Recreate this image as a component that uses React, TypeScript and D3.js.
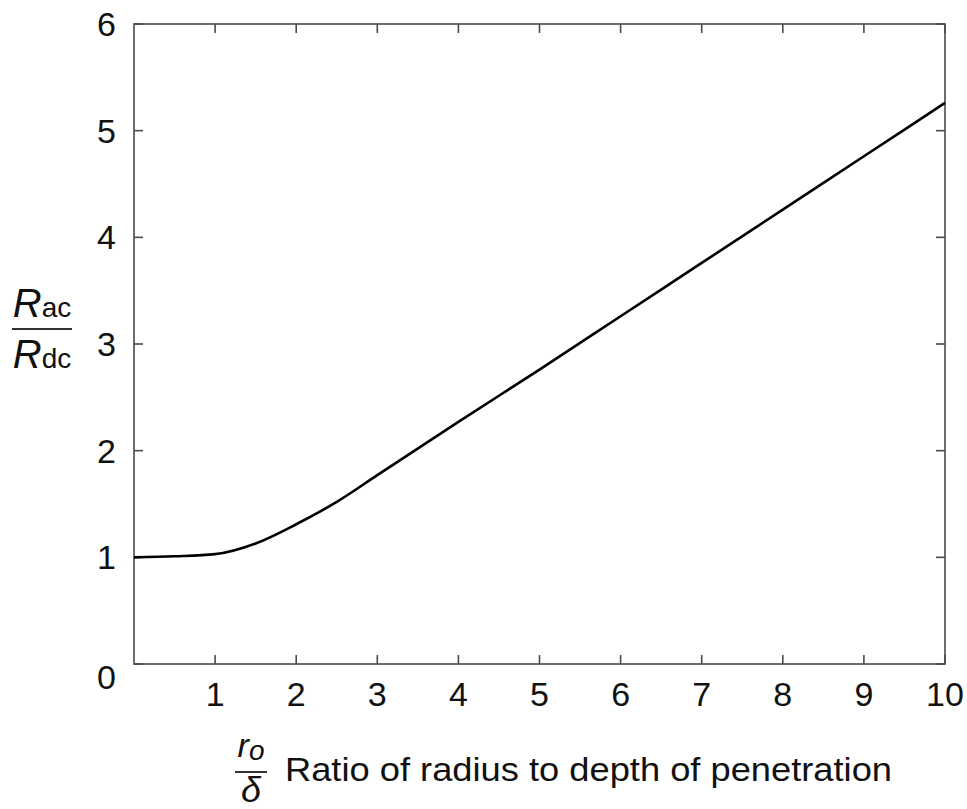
import * as d3 from "d3";
import React, { useEffect, useRef } from "react";

// r_o / delta values and the matching Rac/Rdc
const ratioValues = [0, 0.5, 1, 1.5, 2, 2.5, 3, 4, 5, 6, 7, 8, 9, 10];
const resistanceRatio = [1.0, 1.01, 1.03, 1.13, 1.31, 1.52, 1.77, 2.27, 2.76, 3.26, 3.76, 4.26, 4.76, 5.26];
const xTicks = [1, 2, 3, 4, 5, 6, 7, 8, 9, 10];
const yTicks = [0, 1, 2, 3, 4, 5, 6];
const xLabel = "Ratio of radius to depth of penetration";

export default function App() {
  const ref = useRef<SVGSVGElement>(null);

  useEffect(() => {
    const width = 967,
      height = 809;
    const left = 134,
      right = 945,
      top = 24,
      bottom = 664;
    const font = "'Liberation Sans', Arial, sans-serif";
    const frame = "#4a4a4a";

    const svg = d3.select(ref.current);
    svg.selectAll("*").remove();
    svg.attr("width", width).attr("height", height);

    const x = d3.scaleLinear().domain([0, 10]).range([left, right]);
    const y = d3.scaleLinear().domain([0, 6]).range([bottom, top]);

    // frame
    svg.append("rect")
      .attr("x", left).attr("y", top)
      .attr("width", right - left).attr("height", bottom - top)
      .attr("fill", "none").attr("stroke", frame).attr("stroke-width", 1.6);

    const tickLen = 9;
    const g = svg.append("g").attr("stroke", frame).attr("stroke-width", 1.6);
    xTicks.forEach(t => {
      g.append("line").attr("x1", x(t)).attr("x2", x(t)).attr("y1", bottom).attr("y2", bottom - tickLen);
      g.append("line").attr("x1", x(t)).attr("x2", x(t)).attr("y1", top).attr("y2", top + tickLen);
    });
    yTicks.forEach(t => {
      g.append("line").attr("x1", left).attr("x2", left + tickLen).attr("y1", y(t)).attr("y2", y(t));
      g.append("line").attr("x1", right).attr("x2", right - tickLen).attr("y1", y(t)).attr("y2", y(t));
    });

    // tick labels
    svg.append("g").selectAll("text").data(xTicks).join("text")
      .attr("x", d => x(d)).attr("y", 706)
      .attr("text-anchor", "middle")
      .attr("font-family", font).attr("font-size", 34).attr("fill", "#111")
      .text(d => d);

    svg.append("g").selectAll("text").data(yTicks).join("text")
      .attr("x", 116).attr("y", d => y(d) + 12 + (d === 0 ? 13 : 0))
      .attr("text-anchor", "end")
      .attr("font-family", font).attr("font-size", 34).attr("fill", "#111")
      .text(d => d);

    // curve
    const line = d3.line<number>()
      .x((_, i) => x(ratioValues[i]))
      .y(d => y(d))
      .curve(d3.curveMonotoneX);
    svg.append("path")
      .attr("d", line(resistanceRatio))
      .attr("fill", "none").attr("stroke", "#000").attr("stroke-width", 2.6);

    // y label: R_ac / R_dc
    const yl = svg.append("g").attr("font-family", font).attr("fill", "#111");
    const num = yl.append("text").attr("x", 42).attr("y", 317).attr("text-anchor", "middle");
    num.append("tspan").attr("font-style", "italic").attr("font-size", 40).text("R");
    num.append("tspan").attr("font-size", 28).text("ac");
    const den = yl.append("text").attr("x", 42).attr("y", 368).attr("text-anchor", "middle");
    den.append("tspan").attr("font-style", "italic").attr("font-size", 40).text("R");
    den.append("tspan").attr("font-size", 28).text("dc");
    yl.append("line").attr("x1", 12).attr("x2", 72).attr("y1", 329).attr("y2", 329)
      .attr("stroke", "#333").attr("stroke-width", 2);

    // x label: r_o / delta
    const xl = svg.append("g").attr("font-family", font).attr("fill", "#111");
    const rn = xl.append("text").attr("x", 251).attr("y", 757).attr("text-anchor", "middle");
    rn.append("tspan").attr("font-style", "italic").attr("font-size", 34).text("r");
    rn.append("tspan").attr("font-style", "italic").attr("font-size", 28).attr("dy", 3).text("o");
    xl.append("text").attr("x", 251).attr("y", 802).attr("text-anchor", "middle")
      .attr("font-style", "italic").attr("font-size", 36).text("δ");
    xl.append("line").attr("x1", 235).attr("x2", 267).attr("y1", 772).attr("y2", 772)
      .attr("stroke", "#333").attr("stroke-width", 2);
    xl.append("text").attr("x", 285).attr("y", 781)
      .attr("font-size", 33)
      .attr("textLength", 607).attr("lengthAdjust", "spacingAndGlyphs")
      .text(xLabel);
  }, []);

  return (
    <svg ref={ref} style={{ position: "absolute", left: 0, top: 0, background: "#fff" }}></svg>
  );
}
